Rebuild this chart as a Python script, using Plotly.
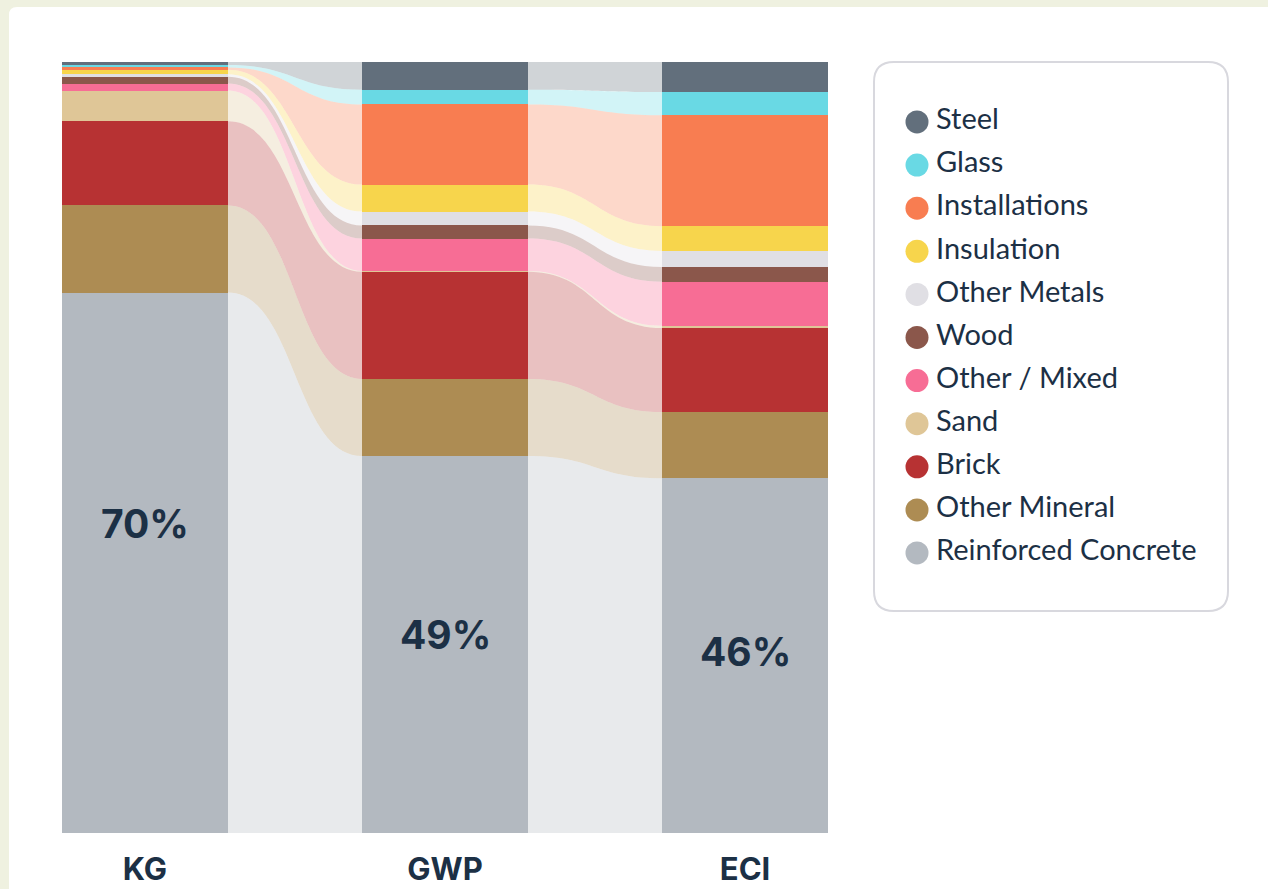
import plotly.graph_objects as go

# shares (%) per material, top of the stack first
metrics = ["KG", "GWP", "ECI"]
materials = [
    "Steel", "Glass", "Installations", "Insulation", "Other Metals", "Wood",
    "Other / Mixed", "Sand", "Brick", "Other Mineral", "Reinforced Concrete",
]
colors = [
    "#626f7c", "#69d9e4", "#f87d51", "#f7d54c", "#e0dfe4", "#8b574b",
    "#f76d95", "#dfc697", "#b73233", "#ad8c53", "#b3b9c0",
]
kg_share = [0.4, 0.3, 0.3, 0.6, 0.3, 0.9, 0.9, 4.0, 10.9, 11.3, 70.1]
gwp_share = [3.6, 1.9, 10.4, 3.5, 1.8, 1.7, 4.2, 0.1, 13.9, 10.0, 48.9]
eci_share = [3.9, 3.0, 14.4, 3.2, 2.1, 1.9, 5.7, 0.3, 10.9, 8.6, 46.0]
concrete_labels = ["70%", "49%", "46%"]
label_y = [40.2, 25.7, 23.6]

shares = [kg_share, gwp_share, eci_share]
BAR_W = 0.553
TEXT = "#1c3045"


def rgba(hex_color, alpha):
    h = hex_color.lstrip("#")
    r, g, b = int(h[0:2], 16), int(h[2:4], 16), int(h[4:6], 16)
    return f"rgba({r},{g},{b},{alpha})"


def stack_bounds(vals):
    # (bottom, top) of every segment, stacked from the bottom of the list upward
    out = [None] * len(vals)
    base = 0.0
    for i in range(len(vals) - 1, -1, -1):
        out[i] = (base, base + vals[i])
        base += vals[i]
    return out


fig = go.Figure()

# bars, bottom segment first so the stack order matches
for i in range(len(materials) - 1, -1, -1):
    fig.add_trace(go.Bar(
        x=[0, 1, 2],
        y=[s[i] for s in shares],
        width=BAR_W,
        marker=dict(color=colors[i], line_width=0),
        name=materials[i],
        showlegend=False,
        hoverinfo="skip",
    ))

# flows between neighbouring bars
shapes = []
for k in range(len(metrics) - 1):
    left = stack_bounds(shares[k])
    right = stack_bounds(shares[k + 1])
    xa = k + BAR_W / 2
    xb = k + 1 - BAR_W / 2
    xm = (xa + xb) / 2
    for i, c in enumerate(colors):
        (ba, ta), (bb, tb) = left[i], right[i]
        path = (f"M {xa},{ta} C {xm},{ta} {xm},{tb} {xb},{tb} "
                f"L {xb},{bb} C {xm},{bb} {xm},{ba} {xa},{ba} Z")
        shapes.append(dict(type="path", xref="x", yref="y", path=path,
                           fillcolor=rgba(c, 0.3), line_width=0, layer="below"))

# white card on the cream page
shapes.append(dict(
    type="path", xref="paper", yref="paper",
    xsizemode="pixel", ysizemode="pixel", xanchor=0, yanchor=1,
    path="M -45,55 L 1240,55 L 1240,-860 L -53,-860 L -53,47 Q -53,55 -45,55 Z",
    fillcolor="white", line_width=0, layer="below",
))
# legend box
shapes.append(dict(
    type="path", xref="paper", yref="paper",
    xsizemode="pixel", ysizemode="pixel", xanchor=(874 - 62) / 1166, yanchor=1,
    path=("M 20,0 L 334,0 Q 354,0 354,-20 L 354,-529 Q 354,-549 334,-549 "
          "L 20,-549 Q 0,-549 0,-529 L 0,-20 Q 0,0 20,0 Z"),
    fillcolor="white", line=dict(color="#d8d8de", width=2), layer="below",
))

# legend entries drawn on their own little axes
fig.add_trace(go.Scatter(
    x=[43] * len(materials), y=list(range(len(materials))),
    mode="markers", marker=dict(size=23, color=colors),
    xaxis="x2", yaxis="y2", showlegend=False, hoverinfo="skip",
))
fig.add_trace(go.Scatter(
    x=[62] * len(materials), y=list(range(len(materials))),
    mode="text", text=materials, textposition="middle right",
    textfont=dict(family="Lato", size=29, color=TEXT),
    xaxis="x2", yaxis="y2", showlegend=False, hoverinfo="skip",
))

for i, (lab, yv) in enumerate(zip(concrete_labels, label_y)):
    fig.add_annotation(x=i, y=yv, text=lab, showarrow=False, xref="x", yref="y",
                       font=dict(family="Inter", size=39, weight=700, color=TEXT))

fig.update_layout(
    width=1268, height=889,
    margin=dict(l=62, r=40, t=62, b=56),
    paper_bgcolor="#eff1e0",
    plot_bgcolor="rgba(0,0,0,0)",
    barmode="stack", bargap=0,
    shapes=shapes,
    hovermode=False,
    xaxis=dict(
        domain=[0, 766 / 1166], range=[-BAR_W / 2, 2 + BAR_W / 2],
        tickvals=[0, 1, 2], ticktext=metrics,
        tickfont=dict(family="Inter", size=31, weight=700, color=TEXT),
        showgrid=False, zeroline=False, showline=False, ticks="",
        ticklabelstandoff=15, automargin=False,
    ),
    yaxis=dict(range=[0, 100], visible=False, automargin=False),
    xaxis2=dict(domain=[(874 - 62) / 1166, 1], range=[0, 354], visible=False,
                anchor="y2"),
    yaxis2=dict(domain=[0, 1], range=[16.497, -1.392], visible=False,
                anchor="x2"),
)

fig.write_html(
    "out.html",
    config={"displayModeBar": False},
    post_script="document.body.style.margin='0';document.body.style.background='#eff1e0';",
)
